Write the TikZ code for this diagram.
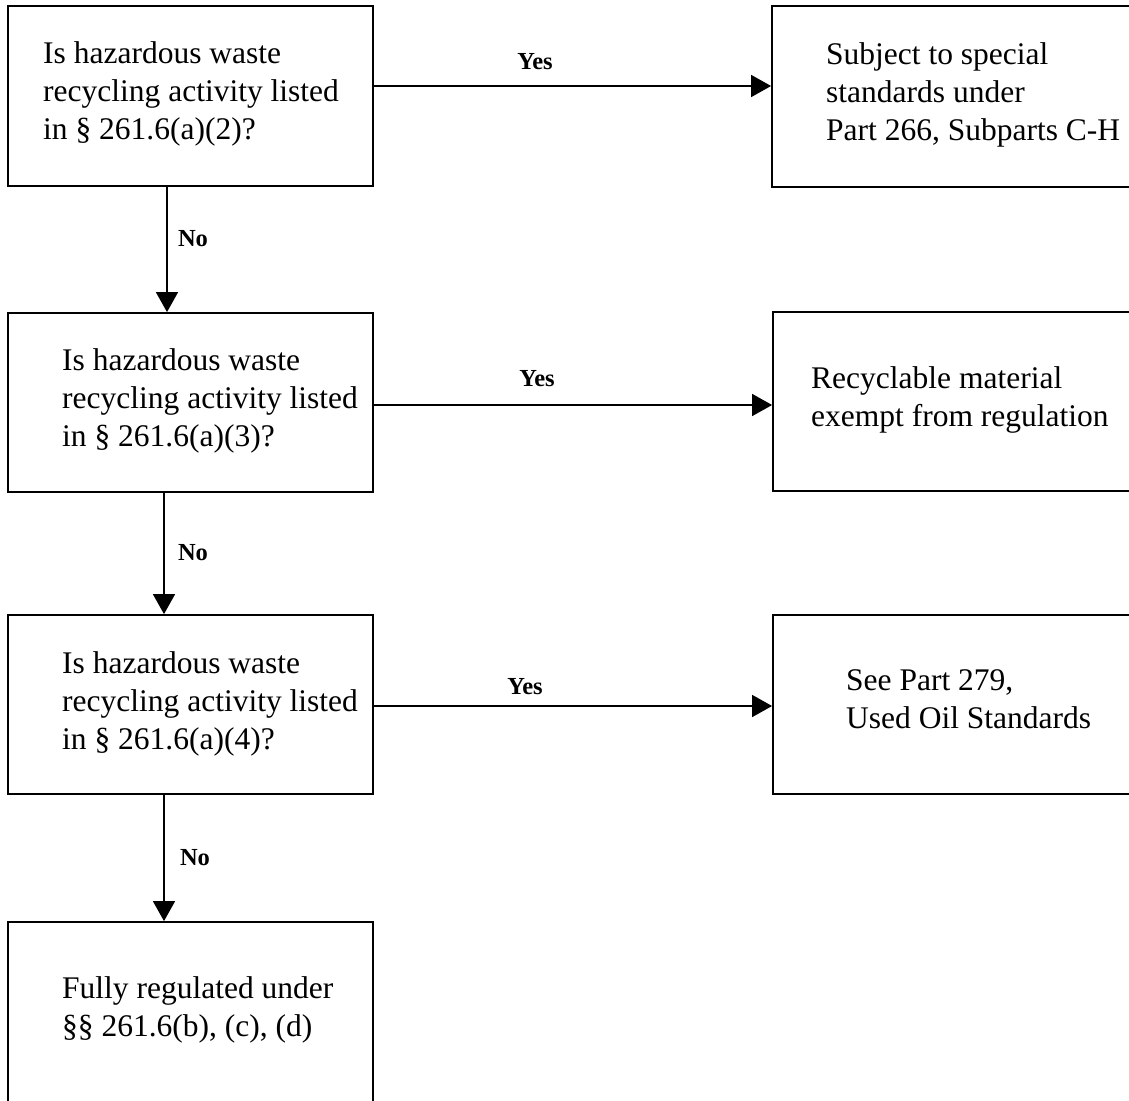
\documentclass[tikz,border=0pt]{standalone}
\usepackage{fontspec}
\setmainfont{Liberation Serif}
\usetikzlibrary{arrows.meta}
\newcommand{\boxlines}[1]{\begin{tabular}[t]{@{}l@{}}#1\end{tabular}}
\begin{document}
\begin{tikzpicture}[x=1pt,y=-1pt,
  box/.style={draw,line width=1.8pt,inner sep=0pt},
  txt/.style={anchor=base west,inner sep=0pt,font=\fontsize{31.5}{38}\selectfont},
  lbl/.style={inner sep=0pt,font=\fontsize{24.5}{28}\selectfont\bfseries},
  arr/.style={line width=1.4pt,-{Triangle[length=20pt,width=22pt]}}]
\clip (0,0) rectangle (1129,1100);
\fill[white] (0,0) rectangle (1129,1100);

% decision boxes on the left
\node[box,minimum width=365pt,minimum height=180pt] (b1) at (190.5,96) {};
\node[box,minimum width=365pt,minimum height=179pt] (b2) at (190.5,402.5) {};
\node[box,minimum width=365pt,minimum height=179pt] (b3) at (190.5,704.5) {};
\node[box,minimum width=365pt,minimum height=183pt] (b4) at (190.5,1013.5) {};

% outcome boxes on the right (running past the edge)
\node[box,minimum width=368pt,minimum height=181pt] (r1) at (956,96.5) {};
\node[box,minimum width=367pt,minimum height=179pt] (r2) at (956.5,401.5) {};
\node[box,minimum width=367pt,minimum height=179pt] (r3) at (956.5,704.5) {};

% box texts
\node[txt] (t1) at (43,63) {\boxlines{Is hazardous waste\\recycling activity listed\\in § 261.6(a)(2)?}};
\node[txt] (t2) at (62,370) {\boxlines{Is hazardous waste\\recycling activity listed\\in § 261.6(a)(3)?}};
\node[txt] (t3) at (62,673) {\boxlines{Is hazardous waste\\recycling activity listed\\in § 261.6(a)(4)?}};
\node[txt] (t4) at (62,998) {\boxlines{Fully regulated under\\§§ 261.6(b), (c), (d)}};
\node[txt] (u1) at (826,64) {\boxlines{Subject to special\\standards under\\Part 266, Subparts C-H}};
\node[txt] (u2) at (811,388) {\boxlines{Recyclable material\\exempt from regulation}};
\node[txt] (u3) at (846,690) {\boxlines{See Part 279,\\Used Oil Standards}};

% connector heights and columns
\coordinate (h1) at (0,86);
\coordinate (h2) at (0,405);
\coordinate (h3) at (0,706);
\coordinate (v1) at (167,0);
\coordinate (v2) at (164,0);
\coordinate (v3) at (164,0);

% "Yes" connectors
\draw[arr] (b1.east |- h1) -- (r1.west |- h1);
\draw[arr] (b2.east |- h2) -- (r2.west |- h2);
\draw[arr] (b3.east |- h3) -- (r3.west |- h3);
\node[lbl] (y1) at (535,62) {Yes};
\node[lbl] (y2) at (537,379) {Yes};
\node[lbl] (y3) at (525,687) {Yes};

% "No" connectors
\draw[arr] (b1.south -| v1) -- (b2.north -| v1);
\draw[arr] (b2.south -| v2) -- (b3.north -| v2);
\draw[arr] (b3.south -| v3) -- (b4.north -| v3);
\node[lbl] (n1) at (193,239) {No};
\node[lbl] (n2) at (193,553) {No};
\node[lbl] (n3) at (195,858) {No};
\end{tikzpicture}
\end{document}
